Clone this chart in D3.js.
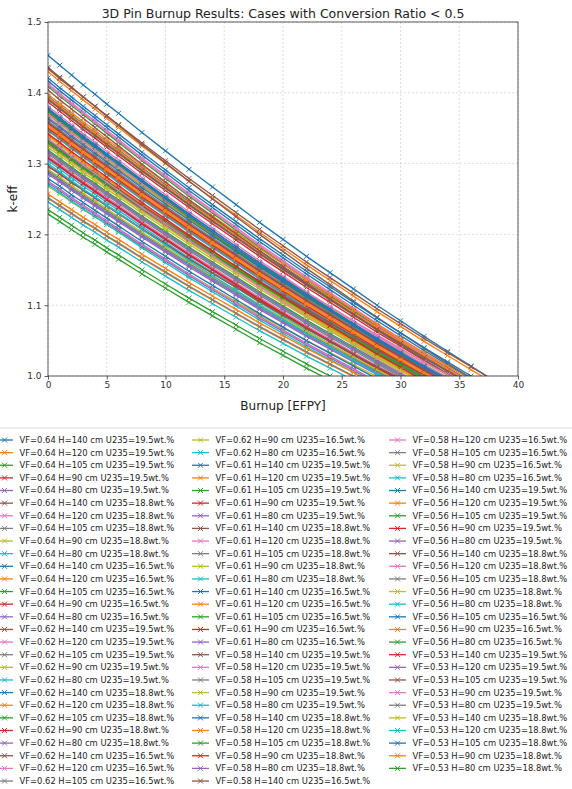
<!DOCTYPE html>
<html>
<head>
<meta charset="utf-8">
<script src="https://cdn.jsdelivr.net/npm/d3@7"></script>
<style>
  body { margin: 0; background: #fff; }
  svg { display: block; font-family: "DejaVu Sans", sans-serif; }
</style>
</head>
<body>
<svg id="chart" width="572" height="789"></svg>
<script>
// burnup steps where k-eff was recorded
var burnup = [0, 1, 2, 3, 4, 5, 6, 8, 10, 12, 14, 16, 18, 20, 22, 24, 26, 28, 30, 32, 34, 36, 38];

var xTicks = [0, 5, 10, 15, 20, 25, 30, 35, 40];
var yTicks = [1.0, 1.1, 1.2, 1.3, 1.4, 1.5];

var caseLabels = [
  "VF=0.64 H=140 cm U235=19.5wt.%", "VF=0.64 H=120 cm U235=19.5wt.%", "VF=0.64 H=105 cm U235=19.5wt.%",
  "VF=0.64 H=90 cm U235=19.5wt.%", "VF=0.64 H=80 cm U235=19.5wt.%",
  "VF=0.64 H=140 cm U235=18.8wt.%", "VF=0.64 H=120 cm U235=18.8wt.%", "VF=0.64 H=105 cm U235=18.8wt.%",
  "VF=0.64 H=90 cm U235=18.8wt.%", "VF=0.64 H=80 cm U235=18.8wt.%",
  "VF=0.64 H=140 cm U235=16.5wt.%", "VF=0.64 H=120 cm U235=16.5wt.%", "VF=0.64 H=105 cm U235=16.5wt.%",
  "VF=0.64 H=90 cm U235=16.5wt.%", "VF=0.64 H=80 cm U235=16.5wt.%",
  "VF=0.62 H=140 cm U235=19.5wt.%", "VF=0.62 H=120 cm U235=19.5wt.%", "VF=0.62 H=105 cm U235=19.5wt.%",
  "VF=0.62 H=90 cm U235=19.5wt.%", "VF=0.62 H=80 cm U235=19.5wt.%",
  "VF=0.62 H=140 cm U235=18.8wt.%", "VF=0.62 H=120 cm U235=18.8wt.%", "VF=0.62 H=105 cm U235=18.8wt.%",
  "VF=0.62 H=90 cm U235=18.8wt.%", "VF=0.62 H=80 cm U235=18.8wt.%",
  "VF=0.62 H=140 cm U235=16.5wt.%", "VF=0.62 H=120 cm U235=16.5wt.%", "VF=0.62 H=105 cm U235=16.5wt.%",
  "VF=0.62 H=90 cm U235=16.5wt.%", "VF=0.62 H=80 cm U235=16.5wt.%",
  "VF=0.61 H=140 cm U235=19.5wt.%", "VF=0.61 H=120 cm U235=19.5wt.%", "VF=0.61 H=105 cm U235=19.5wt.%",
  "VF=0.61 H=90 cm U235=19.5wt.%", "VF=0.61 H=80 cm U235=19.5wt.%",
  "VF=0.61 H=140 cm U235=18.8wt.%", "VF=0.61 H=120 cm U235=18.8wt.%", "VF=0.61 H=105 cm U235=18.8wt.%",
  "VF=0.61 H=90 cm U235=18.8wt.%", "VF=0.61 H=80 cm U235=18.8wt.%",
  "VF=0.61 H=140 cm U235=16.5wt.%", "VF=0.61 H=120 cm U235=16.5wt.%", "VF=0.61 H=105 cm U235=16.5wt.%",
  "VF=0.61 H=90 cm U235=16.5wt.%", "VF=0.61 H=80 cm U235=16.5wt.%",
  "VF=0.58 H=140 cm U235=19.5wt.%", "VF=0.58 H=120 cm U235=19.5wt.%", "VF=0.58 H=105 cm U235=19.5wt.%",
  "VF=0.58 H=90 cm U235=19.5wt.%", "VF=0.58 H=80 cm U235=19.5wt.%",
  "VF=0.58 H=140 cm U235=18.8wt.%", "VF=0.58 H=120 cm U235=18.8wt.%", "VF=0.58 H=105 cm U235=18.8wt.%",
  "VF=0.58 H=90 cm U235=18.8wt.%", "VF=0.58 H=80 cm U235=18.8wt.%",
  "VF=0.58 H=140 cm U235=16.5wt.%", "VF=0.58 H=120 cm U235=16.5wt.%", "VF=0.58 H=105 cm U235=16.5wt.%",
  "VF=0.58 H=90 cm U235=16.5wt.%", "VF=0.58 H=80 cm U235=16.5wt.%",
  "VF=0.56 H=140 cm U235=19.5wt.%", "VF=0.56 H=120 cm U235=19.5wt.%", "VF=0.56 H=105 cm U235=19.5wt.%",
  "VF=0.56 H=90 cm U235=19.5wt.%", "VF=0.56 H=80 cm U235=19.5wt.%",
  "VF=0.56 H=140 cm U235=18.8wt.%", "VF=0.56 H=120 cm U235=18.8wt.%", "VF=0.56 H=105 cm U235=18.8wt.%",
  "VF=0.56 H=90 cm U235=18.8wt.%", "VF=0.56 H=80 cm U235=18.8wt.%",
  "VF=0.56 H=105 cm U235=16.5wt.%", "VF=0.56 H=90 cm U235=16.5wt.%", "VF=0.56 H=80 cm U235=16.5wt.%",
  "VF=0.53 H=140 cm U235=19.5wt.%", "VF=0.53 H=120 cm U235=19.5wt.%", "VF=0.53 H=105 cm U235=19.5wt.%",
  "VF=0.53 H=90 cm U235=19.5wt.%", "VF=0.53 H=80 cm U235=19.5wt.%",
  "VF=0.53 H=140 cm U235=18.8wt.%", "VF=0.53 H=120 cm U235=18.8wt.%", "VF=0.53 H=105 cm U235=18.8wt.%",
  "VF=0.53 H=90 cm U235=18.8wt.%", "VF=0.53 H=80 cm U235=18.8wt.%"
];

// k-eff per case, one value per burnup step
var keff = [
  [1.453,1.439,1.425,1.411,1.398,1.384,1.371,1.344,1.318,1.292,1.267,1.242,1.217,1.193,1.169,1.146,1.123,1.100,1.078,1.056,1.035,1.014,0.993],
  [1.430,1.416,1.403,1.390,1.377,1.364,1.351,1.325,1.300,1.275,1.251,1.227,1.203,1.180,1.157,1.135,1.113,1.091,1.070,1.049,1.029,1.009,0.989],
  [1.409,1.395,1.382,1.369,1.356,1.343,1.330,1.304,1.279,1.254,1.230,1.206,1.182,1.159,1.136,1.114,1.092,1.070,1.049,1.028,1.008,0.988],
  [1.387,1.374,1.361,1.348,1.336,1.323,1.311,1.286,1.262,1.238,1.215,1.192,1.169,1.147,1.125,1.104,1.083,1.062,1.042,1.022,1.003,0.984],
  [1.365,1.353,1.340,1.328,1.316,1.304,1.292,1.268,1.245,1.222,1.200,1.178,1.156,1.135,1.114,1.094,1.074,1.054,1.035,1.016,0.998],
  [1.436,1.422,1.408,1.394,1.381,1.367,1.354,1.327,1.301,1.275,1.250,1.225,1.200,1.176,1.152,1.129,1.106,1.083,1.061,1.039,1.018,0.997],
  [1.413,1.399,1.386,1.373,1.360,1.347,1.334,1.308,1.283,1.258,1.234,1.210,1.186,1.163,1.140,1.118,1.096,1.074,1.053,1.032,1.012,0.992],
  [1.392,1.379,1.366,1.353,1.341,1.328,1.316,1.291,1.267,1.243,1.220,1.197,1.174,1.152,1.130,1.109,1.088,1.067,1.047,1.027,1.008,0.989],
  [1.370,1.357,1.344,1.331,1.319,1.306,1.294,1.269,1.245,1.221,1.198,1.175,1.152,1.130,1.108,1.087,1.066,1.045,1.025,1.005,0.986],
  [1.348,1.336,1.323,1.311,1.299,1.287,1.275,1.251,1.228,1.205,1.183,1.161,1.139,1.118,1.097,1.077,1.057,1.037,1.018,0.999],
  [1.395,1.382,1.369,1.356,1.344,1.331,1.319,1.294,1.270,1.246,1.223,1.200,1.177,1.155,1.133,1.112,1.091,1.070,1.050,1.030,1.011,0.992],
  [1.372,1.359,1.346,1.333,1.321,1.308,1.296,1.271,1.247,1.223,1.200,1.177,1.154,1.132,1.110,1.089,1.068,1.047,1.027,1.007,0.988],
  [1.351,1.339,1.326,1.314,1.302,1.290,1.278,1.254,1.231,1.208,1.186,1.164,1.142,1.121,1.100,1.080,1.060,1.040,1.021,1.002,0.984],
  [1.329,1.317,1.305,1.293,1.282,1.270,1.259,1.236,1.214,1.192,1.171,1.150,1.129,1.109,1.089,1.070,1.051,1.032,1.014,0.996],
  [1.307,1.295,1.283,1.271,1.260,1.248,1.237,1.214,1.192,1.170,1.149,1.128,1.107,1.087,1.067,1.048,1.029,1.010,0.992],
  [1.434,1.420,1.407,1.394,1.381,1.368,1.355,1.329,1.304,1.279,1.255,1.231,1.207,1.184,1.161,1.139,1.117,1.095,1.074,1.053,1.033,1.013,0.993],
  [1.411,1.397,1.384,1.371,1.358,1.345,1.332,1.306,1.281,1.256,1.232,1.208,1.184,1.161,1.138,1.116,1.094,1.072,1.051,1.030,1.010,0.990],
  [1.390,1.377,1.364,1.351,1.339,1.326,1.314,1.289,1.265,1.241,1.218,1.195,1.172,1.150,1.128,1.107,1.086,1.065,1.045,1.025,1.006,0.987],
  [1.368,1.356,1.343,1.331,1.319,1.307,1.295,1.271,1.248,1.225,1.203,1.181,1.159,1.138,1.117,1.097,1.077,1.057,1.038,1.019,1.001,0.983],
  [1.346,1.334,1.321,1.309,1.297,1.285,1.273,1.249,1.226,1.203,1.181,1.159,1.137,1.116,1.095,1.075,1.055,1.035,1.016,0.997],
  [1.417,1.403,1.390,1.377,1.364,1.351,1.338,1.312,1.287,1.262,1.238,1.214,1.190,1.167,1.144,1.122,1.100,1.078,1.057,1.036,1.016,0.996],
  [1.394,1.381,1.368,1.355,1.343,1.330,1.318,1.293,1.269,1.245,1.222,1.199,1.176,1.154,1.132,1.111,1.090,1.069,1.049,1.029,1.010,0.991],
  [1.373,1.360,1.347,1.334,1.322,1.309,1.297,1.272,1.248,1.224,1.201,1.178,1.155,1.133,1.111,1.090,1.069,1.048,1.028,1.008,0.989],
  [1.350,1.338,1.325,1.313,1.301,1.289,1.277,1.253,1.230,1.207,1.185,1.163,1.141,1.120,1.099,1.079,1.059,1.039,1.020,1.001,0.983],
  [1.327,1.315,1.303,1.291,1.280,1.268,1.257,1.234,1.212,1.190,1.169,1.148,1.127,1.107,1.087,1.068,1.049,1.030,1.012,0.994],
  [1.376,1.363,1.350,1.337,1.325,1.312,1.300,1.275,1.251,1.227,1.204,1.181,1.158,1.136,1.114,1.093,1.072,1.051,1.031,1.011,0.992],
  [1.355,1.343,1.330,1.318,1.306,1.294,1.282,1.258,1.235,1.212,1.190,1.168,1.146,1.125,1.104,1.084,1.064,1.044,1.025,1.006,0.988],
  [1.332,1.320,1.308,1.296,1.285,1.273,1.262,1.239,1.217,1.195,1.174,1.153,1.132,1.112,1.092,1.073,1.054,1.035,1.017,0.999],
  [1.310,1.298,1.286,1.274,1.263,1.251,1.240,1.217,1.195,1.173,1.152,1.131,1.110,1.090,1.070,1.051,1.032,1.013,0.995],
  [1.288,1.277,1.265,1.254,1.243,1.232,1.221,1.199,1.178,1.157,1.137,1.117,1.097,1.078,1.059,1.041,1.023,1.005,0.988],
  [1.421,1.407,1.394,1.381,1.368,1.355,1.342,1.316,1.291,1.266,1.242,1.218,1.194,1.171,1.148,1.126,1.104,1.082,1.061,1.040,1.020,1.000,0.980],
  [1.398,1.385,1.372,1.359,1.347,1.334,1.322,1.297,1.273,1.249,1.226,1.203,1.180,1.158,1.136,1.115,1.094,1.073,1.053,1.033,1.014,0.995],
  [1.377,1.364,1.351,1.338,1.326,1.313,1.301,1.276,1.252,1.228,1.205,1.182,1.159,1.137,1.115,1.094,1.073,1.052,1.032,1.012,0.993],
  [1.357,1.345,1.332,1.320,1.308,1.296,1.284,1.260,1.237,1.214,1.192,1.170,1.148,1.127,1.106,1.086,1.066,1.046,1.027,1.008,0.990],
  [1.333,1.321,1.309,1.297,1.286,1.274,1.263,1.240,1.218,1.196,1.175,1.154,1.133,1.113,1.093,1.074,1.055,1.036,1.018,1.000,0.983],
  [1.404,1.390,1.377,1.364,1.351,1.338,1.325,1.299,1.274,1.249,1.225,1.201,1.177,1.154,1.131,1.109,1.087,1.065,1.044,1.023,1.003,0.983],
  [1.381,1.368,1.355,1.342,1.330,1.317,1.305,1.280,1.256,1.232,1.209,1.186,1.163,1.141,1.119,1.098,1.077,1.056,1.036,1.016,0.997],
  [1.360,1.348,1.335,1.323,1.311,1.299,1.287,1.263,1.240,1.217,1.195,1.173,1.151,1.130,1.109,1.089,1.069,1.049,1.030,1.011,0.993],
  [1.338,1.326,1.313,1.301,1.289,1.277,1.265,1.241,1.218,1.195,1.173,1.151,1.129,1.108,1.087,1.067,1.047,1.027,1.008,0.989],
  [1.316,1.304,1.292,1.280,1.269,1.257,1.246,1.223,1.201,1.179,1.158,1.137,1.116,1.096,1.076,1.057,1.038,1.019,1.001,0.983],
  [1.363,1.351,1.338,1.326,1.314,1.302,1.290,1.266,1.243,1.220,1.198,1.176,1.154,1.133,1.112,1.092,1.072,1.052,1.033,1.014,0.996],
  [1.340,1.328,1.315,1.303,1.291,1.279,1.267,1.243,1.220,1.197,1.175,1.153,1.131,1.110,1.089,1.069,1.049,1.029,1.010,0.991],
  [1.319,1.307,1.295,1.283,1.272,1.260,1.249,1.226,1.204,1.182,1.161,1.140,1.119,1.099,1.079,1.060,1.041,1.022,1.004,0.986],
  [1.297,1.286,1.274,1.263,1.252,1.241,1.230,1.208,1.187,1.166,1.146,1.126,1.106,1.087,1.068,1.050,1.032,1.014,0.997],
  [1.275,1.264,1.252,1.241,1.230,1.219,1.208,1.186,1.165,1.144,1.124,1.104,1.084,1.065,1.046,1.028,1.010,0.992],
  [1.391,1.378,1.365,1.352,1.340,1.327,1.315,1.290,1.266,1.242,1.219,1.196,1.173,1.151,1.129,1.108,1.087,1.066,1.046,1.026,1.007,0.988],
  [1.369,1.357,1.344,1.332,1.320,1.308,1.296,1.272,1.249,1.226,1.204,1.182,1.160,1.139,1.118,1.098,1.078,1.058,1.039,1.020,1.002,0.984],
  [1.347,1.335,1.322,1.310,1.298,1.286,1.274,1.250,1.227,1.204,1.182,1.160,1.138,1.117,1.096,1.076,1.056,1.036,1.017,0.998],
  [1.326,1.314,1.302,1.290,1.279,1.267,1.256,1.233,1.211,1.189,1.168,1.147,1.126,1.106,1.086,1.067,1.048,1.029,1.011,0.993],
  [1.304,1.292,1.280,1.268,1.257,1.245,1.234,1.211,1.189,1.167,1.146,1.125,1.104,1.084,1.064,1.045,1.026,1.007,0.989],
  [1.375,1.362,1.349,1.336,1.324,1.311,1.299,1.274,1.250,1.226,1.203,1.180,1.157,1.135,1.113,1.092,1.071,1.050,1.030,1.010,0.991],
  [1.352,1.340,1.327,1.315,1.303,1.291,1.279,1.255,1.232,1.209,1.187,1.165,1.143,1.122,1.101,1.081,1.061,1.041,1.022,1.003,0.985],
  [1.331,1.319,1.307,1.295,1.284,1.272,1.261,1.238,1.216,1.194,1.173,1.152,1.131,1.111,1.091,1.072,1.053,1.034,1.016,0.998],
  [1.309,1.297,1.285,1.273,1.262,1.250,1.239,1.216,1.194,1.172,1.151,1.130,1.109,1.089,1.069,1.050,1.031,1.012,0.994],
  [1.287,1.276,1.264,1.253,1.242,1.231,1.220,1.198,1.177,1.156,1.136,1.116,1.096,1.077,1.058,1.040,1.022,1.004,0.987],
  [1.334,1.322,1.310,1.298,1.287,1.275,1.264,1.241,1.219,1.197,1.176,1.155,1.134,1.114,1.094,1.075,1.056,1.037,1.019,1.001,0.984],
  [1.311,1.299,1.287,1.275,1.264,1.252,1.241,1.218,1.196,1.174,1.153,1.132,1.111,1.091,1.071,1.052,1.033,1.014,0.996],
  [1.290,1.279,1.267,1.256,1.245,1.234,1.223,1.201,1.180,1.159,1.139,1.119,1.099,1.080,1.061,1.043,1.025,1.007,0.990],
  [1.268,1.257,1.246,1.235,1.225,1.214,1.204,1.183,1.163,1.143,1.124,1.105,1.086,1.068,1.050,1.033,1.016,0.999],
  [1.246,1.235,1.224,1.213,1.203,1.192,1.182,1.161,1.141,1.121,1.102,1.083,1.064,1.046,1.028,1.011,0.994],
  [1.378,1.365,1.352,1.339,1.327,1.314,1.302,1.277,1.253,1.229,1.206,1.183,1.160,1.138,1.116,1.095,1.074,1.053,1.033,1.013,0.994],
  [1.354,1.342,1.329,1.317,1.305,1.293,1.281,1.257,1.234,1.211,1.189,1.167,1.145,1.124,1.103,1.083,1.063,1.043,1.024,1.005,0.987],
  [1.330,1.318,1.306,1.294,1.283,1.271,1.260,1.237,1.215,1.193,1.172,1.151,1.130,1.110,1.090,1.071,1.052,1.033,1.015,0.997],
  [1.308,1.296,1.284,1.272,1.261,1.249,1.238,1.215,1.193,1.171,1.150,1.129,1.108,1.088,1.068,1.049,1.030,1.011,0.993],
  [1.285,1.274,1.262,1.251,1.240,1.229,1.218,1.196,1.175,1.154,1.134,1.114,1.094,1.075,1.056,1.038,1.020,1.002,0.985],
  [1.358,1.346,1.333,1.321,1.309,1.297,1.285,1.261,1.238,1.215,1.193,1.171,1.149,1.128,1.107,1.087,1.067,1.047,1.028,1.009,0.991],
  [1.335,1.323,1.310,1.298,1.286,1.274,1.262,1.238,1.215,1.192,1.170,1.148,1.126,1.105,1.084,1.064,1.044,1.024,1.005,0.986],
  [1.314,1.302,1.290,1.278,1.267,1.255,1.244,1.221,1.199,1.177,1.156,1.135,1.114,1.094,1.074,1.055,1.036,1.017,0.999],
  [1.292,1.281,1.269,1.258,1.247,1.236,1.225,1.203,1.182,1.161,1.141,1.121,1.101,1.082,1.063,1.045,1.027,1.009,0.992],
  [1.270,1.259,1.247,1.236,1.225,1.214,1.203,1.181,1.160,1.139,1.119,1.099,1.079,1.060,1.041,1.023,1.005,0.987],
  [1.273,1.262,1.250,1.239,1.228,1.217,1.206,1.184,1.163,1.142,1.122,1.102,1.082,1.063,1.044,1.026,1.008,0.990],
  [1.251,1.240,1.229,1.218,1.208,1.197,1.187,1.166,1.146,1.126,1.107,1.088,1.069,1.051,1.033,1.016,0.999],
  [1.229,1.218,1.207,1.196,1.186,1.175,1.165,1.144,1.124,1.104,1.085,1.066,1.047,1.029,1.011,0.994],
  [1.342,1.330,1.317,1.305,1.293,1.281,1.269,1.245,1.222,1.199,1.177,1.155,1.133,1.112,1.091,1.071,1.051,1.031,1.012,0.993],
  [1.317,1.305,1.293,1.281,1.270,1.258,1.247,1.224,1.202,1.180,1.159,1.138,1.117,1.097,1.077,1.058,1.039,1.020,1.002,0.984],
  [1.296,1.285,1.273,1.262,1.251,1.240,1.229,1.207,1.186,1.165,1.145,1.125,1.105,1.086,1.067,1.049,1.031,1.013,0.996],
  [1.274,1.263,1.251,1.240,1.229,1.218,1.207,1.185,1.164,1.143,1.123,1.103,1.083,1.064,1.045,1.027,1.009,0.991],
  [1.252,1.241,1.230,1.219,1.209,1.198,1.188,1.167,1.147,1.127,1.108,1.089,1.070,1.052,1.034,1.017,1.000,0.983],
  [1.323,1.311,1.299,1.287,1.276,1.264,1.253,1.230,1.208,1.186,1.165,1.144,1.123,1.103,1.083,1.064,1.045,1.026,1.008,0.990],
  [1.300,1.288,1.276,1.264,1.253,1.241,1.230,1.207,1.185,1.163,1.142,1.121,1.100,1.080,1.060,1.041,1.022,1.003,0.985],
  [1.279,1.268,1.256,1.245,1.234,1.223,1.212,1.190,1.169,1.148,1.128,1.108,1.088,1.069,1.050,1.032,1.014,0.996],
  [1.257,1.246,1.235,1.224,1.214,1.203,1.193,1.172,1.152,1.132,1.113,1.094,1.075,1.057,1.039,1.022,1.005,0.988],
  [1.235,1.224,1.213,1.202,1.192,1.181,1.171,1.150,1.130,1.110,1.091,1.072,1.053,1.035,1.017,1.000,0.983]
];

var W = 572, H = 789;
var plot = {left: 48, right: 518, top: 22, bottom: 376};

var svg = d3.select("#chart");
svg.append("rect").attr("width", W).attr("height", H).attr("fill", "#fff");

var x = d3.scaleLinear().domain([0, 40]).range([plot.left, plot.right]);
var y = d3.scaleLinear().domain([1.0, 1.5]).range([plot.bottom, plot.top]);
var color = d3.scaleOrdinal(d3.schemeCategory10);

svg.append("clipPath").attr("id", "plotClip")
  .append("rect")
    .attr("x", plot.left).attr("y", plot.top)
    .attr("width", plot.right - plot.left).attr("height", plot.bottom - plot.top);

// grid
var grid = svg.append("g")
  .attr("stroke", "#c8c8c8")
  .attr("stroke-width", 0.6)
  .attr("stroke-dasharray", "2,2");
grid.selectAll(".gx").data(xTicks).join("line")
  .attr("x1", d => x(d)).attr("x2", d => x(d))
  .attr("y1", plot.top).attr("y2", plot.bottom);
grid.selectAll(".gy").data(yTicks).join("line")
  .attr("x1", plot.left).attr("x2", plot.right)
  .attr("y1", d => y(d)).attr("y2", d => y(d));

// series
var line = d3.line()
  .x((d, i) => x(burnup[i]))
  .y(d => y(d));

var xMark = "M-2.5,-2.5L2.5,2.5M-2.5,2.5L2.5,-2.5";

var lines = svg.append("g").attr("clip-path", "url(#plotClip)");
keff.forEach(function(vals, s) {
  var g = lines.append("g").attr("stroke", color(s % 10)).attr("fill", "none");
  g.append("path").attr("d", line(vals)).attr("stroke-width", 1.35);
  g.selectAll("path.m").data(vals).join("path")
    .attr("class", "m")
    .attr("d", xMark)
    .attr("stroke-width", 1)
    .attr("transform", (d, i) => `translate(${x(burnup[i])},${y(d)})`);
});

// frame
svg.append("rect")
  .attr("x", plot.left).attr("y", plot.top)
  .attr("width", plot.right - plot.left).attr("height", plot.bottom - plot.top)
  .attr("fill", "none").attr("stroke", "#333").attr("stroke-width", 0.8);

// axes
var xAxis = g => g
  .attr("transform", `translate(0,${plot.bottom})`)
  .call(d3.axisBottom(x).tickValues(xTicks).tickSize(3.5).tickPadding(2))
  .call(g => g.select(".domain").remove());

var yAxis = g => g
  .attr("transform", `translate(${plot.left},0)`)
  .call(d3.axisLeft(y).tickValues(yTicks).tickFormat(d3.format(".1f")).tickSize(3.5).tickPadding(3))
  .call(g => g.select(".domain").remove());

svg.append("g").call(xAxis);
svg.append("g").call(yAxis);
svg.selectAll(".tick text").attr("font-size", 9).attr("fill", "#333").attr("font-family", "DejaVu Sans");
svg.selectAll(".tick line").attr("stroke", "#333").attr("stroke-width", 0.8);

// titles
svg.append("text")
  .attr("x", (plot.left + plot.right) / 2).attr("y", 18)
  .attr("text-anchor", "middle").attr("font-size", 12.5).attr("fill", "#222")
  .text("3D Pin Burnup Results: Cases with Conversion Ratio < 0.5");

svg.append("text")
  .attr("x", (plot.left + plot.right) / 2).attr("y", 410)
  .attr("text-anchor", "middle").attr("font-size", 12).attr("fill", "#222")
  .text("Burnup [EFPY]");

svg.append("text")
  .attr("transform", `translate(17,${(plot.top + plot.bottom) / 2}) rotate(-90)`)
  .attr("text-anchor", "middle").attr("font-size", 12).attr("fill", "#222")
  .text("k-eff");

// legend
var legend = svg.append("g");
legend.append("rect")
  .attr("x", -4).attr("y", 428).attr("width", 582).attr("height", 380).attr("rx", 3)
  .attr("fill", "#fff").attr("stroke", "#d6d6d6").attr("stroke-width", 0.8);

var perCol = 28, rowH = 12.63, rowY0 = 440;
var colX = [-4, 192, 389];

var items = legend.selectAll("g.item").data(caseLabels).join("g")
  .attr("class", "item")
  .attr("transform", (d, i) => `translate(${colX[Math.floor(i / perCol)]},${rowY0 + (i % perCol) * rowH})`);

items.append("line")
  .attr("x1", 0).attr("x2", 17).attr("y1", 0).attr("y2", 0)
  .attr("stroke", (d, i) => color(i % 10)).attr("stroke-width", 1.3);
items.append("path")
  .attr("d", xMark).attr("transform", "translate(8.5,0)")
  .attr("stroke", (d, i) => color(i % 10)).attr("stroke-width", 1).attr("fill", "none");
items.append("text")
  .attr("x", 23.5).attr("y", 0).attr("dy", "0.35em")
  .attr("font-size", 8.4).attr("fill", "#222")
  .text(d => d);
</script>
</body>
</html>
